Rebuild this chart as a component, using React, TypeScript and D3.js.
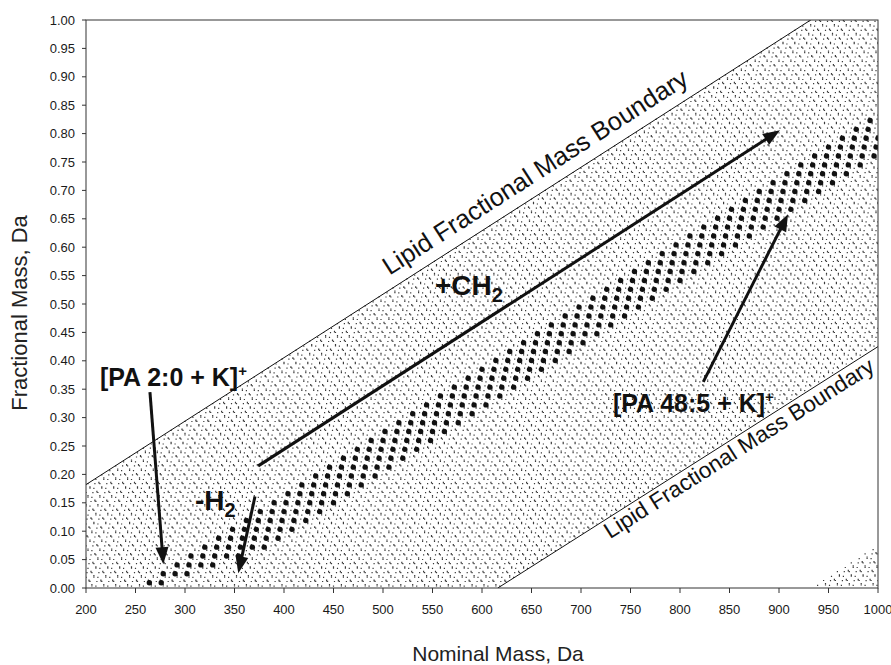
import React, { useMemo } from "react";
import * as d3 from "d3";

const W = 891;
const H = 665;
const FONT = "'Liberation Sans', Arial, Helvetica, sans-serif";

// Axis ticks
const X_TICKS = [200, 250, 300, 350, 400, 450, 500, 550, 600, 650, 700, 750, 800, 850, 900, 950, 1000];
const Y_TICKS = [0, 0.05, 0.1, 0.15, 0.2, 0.25, 0.3, 0.35, 0.4, 0.45, 0.5, 0.55, 0.6, 0.65, 0.7, 0.75, 0.8, 0.85, 0.9, 0.95, 1.0];

// Lipid fractional-mass boundary lines (nominal mass, fractional mass)
const UPPER_BOUNDARY_MASS = [200, 1000];
const UPPER_BOUNDARY_DEFECT = [0.182, 1.076];
const LOWER_BOUNDARY_MASS = [616, 1000];
const LOWER_BOUNDARY_DEFECT = [0.0, 0.425];

// Reference lipid ions (monoisotopic m/z) whose CH2 / H2 homologue grids make the background
const LIPID_ION_NAMES = [
  "[FA 16:0+H]+", "[PC 34:1+H]+", "[PC 34:1+Na]+", "[PS 36:1+H]+",
  "[PG 34:1+Na]+", "[TG 52:2+NH4]+", "[SM d34:1+H]+",
];
const LIPID_ION_MZ = [257.2475, 760.5851, 782.567, 790.5593, 771.5146, 876.8013, 703.5749];

// Homologue increments: nominal and fractional parts
const CH2_NOMINAL = 14;
const H2_NOMINAL = 2;
const H2_DEFECT = 0.01565;

// [PA n:d + K]+ series (large dots), anchored on [PA 2:0 + K]+
const PA_ANCHOR_NOMINAL = 278;
const PA_ANCHOR_DEFECT = 0.025;
const PA_ACYL_CARBONS = [1, 2, 3, 4, 5, 6, 7, 8, 9, 10, 11, 12, 13, 14, 15, 16, 17, 18, 19, 20, 21, 22, 23, 24, 25, 26, 27, 28, 29, 30, 31, 32, 33, 34, 35, 36, 37, 38, 39, 40, 41, 42, 43, 44, 45, 46, 47, 48, 49, 50, 51, 52, 53, 54, 55, 56, 57, 58, 59, 60];
const PA_DOUBLE_BONDS = [0, 1, 2, 3, 4, 5];

// Annotation arrows: [startMass, startDefect, endMass, endDefect]
const ARROW_CH2 = [374, 0.215, 901, 0.806];
const ARROW_H2 = [370.7, 0.161, 353.8, 0.026];
const ARROW_PA2 = [264.6, 0.345, 278.1, 0.042];
const ARROW_PA48 = [823.5, 0.363, 909.1, 0.658];

const interp = (xs: number[], ys: number[], x: number) =>
  ys[0] + ((ys[1] - ys[0]) * (x - xs[0])) / (xs[1] - xs[0]);
const upperAt = (m: number) => interp(UPPER_BOUNDARY_MASS, UPPER_BOUNDARY_DEFECT, m);
const lowerAt = (m: number) => interp(LOWER_BOUNDARY_MASS, LOWER_BOUNDARY_DEFECT, m);

function Arrow({ x1, y1, x2, y2 }: { x1: number; y1: number; x2: number; y2: number }) {
  const dx = x2 - x1;
  const dy = y2 - y1;
  const len = Math.hypot(dx, dy);
  const ux = dx / len;
  const uy = dy / len;
  const headLen = 17;
  const headW = 6.5;
  const bx = x2 - ux * headLen;
  const by = y2 - uy * headLen;
  const px = -uy;
  const py = ux;
  return (
    <g>
      <line x1={x1} y1={y1} x2={bx + ux * 2} y2={by + uy * 2} stroke="#111" strokeWidth={3} />
      <polygon
        points={`${x2},${y2} ${bx + px * headW},${by + py * headW} ${bx - px * headW},${by - py * headW}`}
        fill="#111"
      />
    </g>
  );
}

export default function App() {
  const x = d3.scaleLinear().domain([200, 1000]).range([86, 878]);
  const y = d3.scaleLinear().domain([0, 1]).range([588, 20]);

  const bgPath = useMemo(() => {
    const seen = new Set<string>();
    const parts: string[] = [];
    for (const mz of LIPID_ION_MZ) {
      const n0 = Math.floor(mz);
      const f0 = mz - n0;
      const kMin = Math.ceil(-f0 / H2_DEFECT);
      const kMax = Math.floor((1.1 - f0) / H2_DEFECT);
      for (let k = kMin; k <= kMax; k++) {
        const f = f0 + H2_DEFECT * k;
        const base = n0 + H2_NOMINAL * k;
        const aMin = Math.ceil((200 - base) / 12);
        const aMax = Math.floor((1000 - base) / 12);
        for (let a = aMin; a <= aMax; a++) {
          const n = base + 12 * a;
          if (f < 0 || f > upperAt(n) || f < lowerAt(n)) continue;
          const wrap = Math.floor(f);
          const nom = n + wrap;
          const fr = f - wrap;
          if (nom > 1000 || fr > 1) continue;
          const px = x(nom);
          const py = y(fr);
          const key = `${Math.round(px * 2)}_${Math.round(py * 2)}`;
          if (seen.has(key)) continue;
          seen.add(key);
          parts.push(`M${(px - 0.6).toFixed(1)} ${(py - 0.6).toFixed(1)}h1.2v1.2h-1.2z`);
        }
      }
    }
    return parts.join("");
  }, []);

  const paDots = useMemo(() => {
    const out: { c: number; d: number; m: number; f: number }[] = [];
    for (const c of PA_ACYL_CARBONS) {
      for (const d of PA_DOUBLE_BONDS) {
        if (2 * d > c) continue;
        const m = PA_ANCHOR_NOMINAL + CH2_NOMINAL * (c - 2) - H2_NOMINAL * d;
        const f = PA_ANCHOR_DEFECT + H2_DEFECT * (c - 2 - d);
        if (m < 200 || m > 1000 || f < 0 || f > 1) continue;
        out.push({ c, d, m, f });
      }
    }
    return out;
  }, []);

  const arrow = (a: number[]) => (
    <Arrow x1={x(a[0])} y1={y(a[1])} x2={x(a[2])} y2={y(a[3])} />
  );

  // boundary geometry in pixels
  const ux0 = x(UPPER_BOUNDARY_MASS[0]);
  const uy0 = y(UPPER_BOUNDARY_DEFECT[0]);
  const ux1 = x(UPPER_BOUNDARY_MASS[1]);
  const uy1 = y(UPPER_BOUNDARY_DEFECT[1]);
  const lx0 = x(LOWER_BOUNDARY_MASS[0]);
  const ly0 = y(LOWER_BOUNDARY_DEFECT[0]);
  const lx1 = x(LOWER_BOUNDARY_MASS[1]);
  const ly1 = y(LOWER_BOUNDARY_DEFECT[1]);

  const labelOnLine = (
    m: number,
    lineAt: (m: number) => number,
    x0: number, y0: number, x1: number, y1: number,
    offset: number
  ) => {
    const dx = x1 - x0;
    const dy = y1 - y0;
    const len = Math.hypot(dx, dy);
    const ux = dx / len;
    const uy = dy / len;
    const nx = uy; // up-left normal
    const ny = -ux;
    const px = x(m) + nx * offset;
    const py = y(lineAt(m)) + ny * offset;
    const ang = (Math.atan2(dy, dx) * 180) / Math.PI;
    return `translate(${px.toFixed(1)},${py.toFixed(1)}) rotate(${ang.toFixed(2)})`;
  };

  return (
    <svg
      width={W}
      height={H}
      viewBox={`0 0 ${W} ${H}`}
      style={{ position: "absolute", left: 0, top: 0, background: "#fff" }}
      fontFamily={FONT}
    >
      <defs>
        <clipPath id="plot">
          <rect x={86} y={20} width={792} height={568} />
        </clipPath>
      </defs>
      <rect x={0} y={0} width={W} height={H} fill="#fff" />

      <g clipPath="url(#plot)">
        <path d={bgPath} fill="#3a3a3a" />
        {paDots.map((p) => (
          <circle key={`${p.c}:${p.d}`} cx={x(p.m)} cy={y(p.f)} r={2.7} fill="#111" />
        ))}
        <line x1={ux0} y1={uy0} x2={ux1} y2={uy1} stroke="#111" strokeWidth={1} />
        <line x1={lx0} y1={ly0} x2={lx1} y2={ly1} stroke="#111" strokeWidth={1} />
      </g>

      {/* frame */}
      <rect x={86} y={20} width={792} height={568} fill="none" stroke="#333" strokeWidth={1} />

      {/* y axis ticks */}
      {Y_TICKS.map((t) => (
        <g key={`y${t}`}>
          <line x1={82} x2={86} y1={y(t)} y2={y(t)} stroke="#333" />
          <text x={75} y={y(t) + 4.5} textAnchor="end" fontSize={13} fill="#1a1a1a">
            {t.toFixed(2)}
          </text>
        </g>
      ))}
      {/* x axis ticks */}
      {X_TICKS.map((t) => (
        <g key={`x${t}`}>
          <line x1={x(t)} x2={x(t)} y1={588} y2={593} stroke="#333" />
          <text x={x(t)} y={614} textAnchor="middle" fontSize={13} fill="#1a1a1a">
            {t}
          </text>
        </g>
      ))}

      <text x={498} y={661} textAnchor="middle" fontSize={21} fill="#222">
        Nominal Mass, Da
      </text>
      <text
        transform="translate(27,313) rotate(-90)"
        textAnchor="middle"
        fontSize={22}
        fill="#222"
      >
        Fractional Mass, Da
      </text>

      {/* boundary labels */}
      <text
        transform={labelOnLine(513, upperAt, ux0, uy0, ux1, uy1, 12)}
        fontSize={25.5}
        fill="#111"
      >
        Lipid Fractional Mass Boundary
      </text>
      <text
        transform={labelOnLine(719, lowerAt, lx0, ly0, lx1, ly1, -19)}
        fontSize={22.5}
        fill="#111"
      >
        Lipid Fractional Mass Boundary
      </text>

      {/* arrows */}
      {arrow(ARROW_CH2)}
      {arrow(ARROW_H2)}
      {arrow(ARROW_PA2)}
      {arrow(ARROW_PA48)}

      {/* annotation labels */}
      <text x={x(552.5)} y={y(0.516)} fontSize={28} fontWeight="bold" fill="#111">
        +CH<tspan fontSize={20} dy={7}>2</tspan>
      </text>
      <text x={x(310)} y={y(0.137)} fontSize={28} fontWeight="bold" fill="#111">
        -H<tspan fontSize={20} dy={7}>2</tspan>
      </text>
      <text x={x(214.1)} y={y(0.356)} fontSize={25} fontWeight="bold" fill="#111">
        [PA 2:0 + K]<tspan fontSize={15} dy={-10}>+</tspan>
      </text>
      <text x={x(732.3)} y={y(0.31)} fontSize={25} fontWeight="bold" fill="#111">
        [PA 48:5 + K]<tspan fontSize={15} dy={-10}>+</tspan>
      </text>
    </svg>
  );
}
